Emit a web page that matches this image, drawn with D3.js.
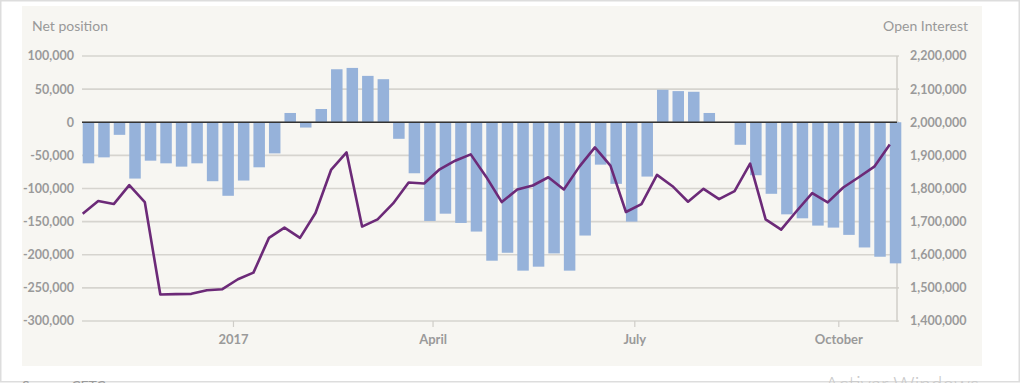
<!DOCTYPE html>
<html>
<head>
<meta charset="utf-8">
<script src="https://cdn.jsdelivr.net/npm/d3@7"></script>
<style>
  html, body { margin: 0; padding: 0; background: #ffffff; }
  svg { display: block; }
  text { font-family: Lato, "Open Sans", sans-serif; }
</style>
</head>
<body>
<svg id="chart" width="1021" height="383"></svg>
<script>
// ---- Data ----
const dates = [
  "2016-10-25","2016-11-01","2016-11-08","2016-11-15","2016-11-22","2016-11-29",
  "2016-12-06","2016-12-13","2016-12-20","2016-12-27",
  "2017-01-03","2017-01-10","2017-01-17","2017-01-24","2017-01-31",
  "2017-02-07","2017-02-14","2017-02-21","2017-02-28",
  "2017-03-07","2017-03-14","2017-03-21","2017-03-28",
  "2017-04-04","2017-04-11","2017-04-18","2017-04-25",
  "2017-05-02","2017-05-09","2017-05-16","2017-05-23","2017-05-30",
  "2017-06-06","2017-06-13","2017-06-20","2017-06-27",
  "2017-07-04","2017-07-11","2017-07-18","2017-07-25",
  "2017-08-01","2017-08-08","2017-08-15","2017-08-22","2017-08-29",
  "2017-09-05","2017-09-12","2017-09-19","2017-09-26",
  "2017-10-03","2017-10-10","2017-10-17","2017-10-24"
];
const netPosition = [
  -62000, -53000, -19000, -85000, -58000, -62000, -67000, -62000, -89000, -111000,
  -88000, -68000, -47000, 14000, -8000, 20000, 80000, 82000, 70000, 65000,
  -25000, -77000, -149000, -138000, -152000, -165000, -209000, -197000, -224000, -218000,
  -198000, -224000, -171000, -64000, -93000, -150000, -82000, 49000, 47000, 46000,
  14000, 0, -34000, -80000, -108000, -139000, -145000, -156000, -159000, -170000,
  -189000, -203000, -213000
];
const openInterest = [
  1724000, 1762000, 1753000, 1810000, 1759000, 1480000, 1481000, 1482000, 1493000, 1496000,
  1526000, 1546000, 1651000, 1682000, 1651000, 1726000, 1856000, 1909000, 1685000, 1707000,
  1755000, 1818000, 1815000, 1858000, 1884000, 1903000, 1835000, 1759000, 1797000, 1809000,
  1834000, 1797000, 1866000, 1924000, 1869000, 1729000, 1753000, 1841000, 1807000, 1760000,
  1799000, 1768000, 1792000, 1875000, 1707000, 1676000, 1732000, 1786000, 1758000, 1803000,
  1834000, 1866000, 1933000
];
const leftTicks = [100000, 50000, 0, -50000, -100000, -150000, -200000, -250000, -300000];
const rightTicks = [2200000, 2100000, 2000000, 1900000, 1800000, 1700000, 1600000, 1500000, 1400000];
const xTickDates = ["2017-01-01", "2017-04-01", "2017-07-01", "2017-10-01"];
const xTickLabels = ["2017", "April", "July", "October"];
const leftTitle = "Net position";
const rightTitle = "Open Interest";
const sourceText = "Source: CFTC";

// ---- Layout ----
const svg = d3.select("#chart");
const parse = d3.utcParse("%Y-%m-%d");
const data = dates.map((d, i) => ({ date: parse(d), net: netPosition[i], oi: openInterest[i] }));

const plotLeft = 82, plotRight = 897, plotTop = 56, plotBottom = 321;
const x = d3.scaleUtc()
  .domain([parse(dates[0]), parse(dates[dates.length - 1])])
  .range([82.7, 889.8]);
const yL = d3.scaleLinear().domain([-300000, 100000]).range([plotBottom, plotTop]);
const yR = d3.scaleLinear().domain([1400000, 2200000]).range([plotBottom, plotTop]);
const barW = 11.5;

// outer frame
svg.append("rect").attr("x", 0.75).attr("y", 0.75).attr("width", 1018.5).attr("height", 381)
  .attr("fill", "#ffffff").attr("stroke", "#dddddd").attr("stroke-width", 1.5);
// panel
svg.append("rect").attr("x", 22).attr("y", 6).attr("width", 960).attr("height", 360)
  .attr("fill", "#f7f6f2");

// gridlines
svg.append("g").selectAll("line").data(leftTicks).join("line")
  .attr("x1", plotLeft).attr("x2", plotRight + 2)
  .attr("y1", d => yL(d)).attr("y2", d => yL(d))
  .attr("stroke", "#d6d4cf").attr("stroke-width", 1.6);

// right axis line
svg.append("line").attr("x1", plotRight).attr("x2", plotRight)
  .attr("y1", plotTop).attr("y2", plotBottom + 1)
  .attr("stroke", "#d0cec9").attr("stroke-width", 1.5);

// x ticks
const xt = xTickDates.map((d, i) => ({ date: parse(d), label: xTickLabels[i] }));
svg.append("g").selectAll("line").data(xt).join("line")
  .attr("x1", d => x(d.date)).attr("x2", d => x(d.date))
  .attr("y1", plotBottom).attr("y2", plotBottom + 6)
  .attr("stroke", "#cfcdc8").attr("stroke-width", 1.2);
svg.append("g").selectAll("text").data(xt).join("text")
  .attr("x", d => x(d.date)).attr("y", 344)
  .attr("text-anchor", "middle")
  .attr("font-size", 13).attr("font-weight", 700).attr("fill", "#9a9a9a")
  .text(d => d.label);

// bars
svg.append("g").selectAll("rect").data(data).join("rect")
  .attr("x", d => x(d.date))
  .attr("width", barW)
  .attr("y", d => Math.min(yL(d.net), yL(0)))
  .attr("height", d => Math.abs(yL(d.net) - yL(0)))
  .attr("fill", "#96b2da");

// zero line
svg.append("line").attr("x1", plotLeft).attr("x2", plotRight)
  .attr("y1", yL(0)).attr("y2", yL(0))
  .attr("stroke", "#333333").attr("stroke-width", 1.5);

// line
svg.append("path").datum(data)
  .attr("d", d3.line().x(d => x(d.date)).y(d => yR(d.oi)))
  .attr("fill", "none").attr("stroke", "#6c2a78").attr("stroke-width", 2.6)
  .attr("stroke-linejoin", "round");

// left tick labels
const fmt = d3.format(",");
svg.append("g").selectAll("text").data(leftTicks).join("text")
  .attr("x", 74).attr("y", d => yL(d)).attr("dy", "0.35em")
  .attr("text-anchor", "end")
  .attr("font-size", 12.5).attr("font-weight", 700).attr("fill", "#9a9a9a")
  .text(d => d === 0 ? "0" : (d < 0 ? "-" + fmt(-d) : fmt(d)));

// right tick labels
svg.append("g").selectAll("text").data(rightTicks).join("text")
  .attr("x", 910).attr("y", d => yR(d)).attr("dy", "0.35em")
  .attr("text-anchor", "start")
  .attr("font-size", 12.5).attr("font-weight", 700).attr("fill", "#9a9a9a")
  .text(d => fmt(d));

// titles
svg.append("text").attr("x", 32).attr("y", 31)
  .attr("font-size", 14).attr("fill", "#999999").text(leftTitle);
svg.append("text").attr("x", 968).attr("y", 31).attr("text-anchor", "end")
  .attr("font-size", 14).attr("fill", "#999999").text(rightTitle);

// source (cut off at the bottom edge, as in the reference)
svg.append("text").attr("x", 22).attr("y", 391)
  .attr("font-size", 14).attr("fill", "#9a9a9a").text(sourceText);
// watermark
svg.append("text").attr("x", 825).attr("y", 392)
  .attr("font-size", 21).attr("fill", "#c9c9c9").attr("font-weight", 300)
  .text("Activar Windows");
</script>
</body>
</html>
